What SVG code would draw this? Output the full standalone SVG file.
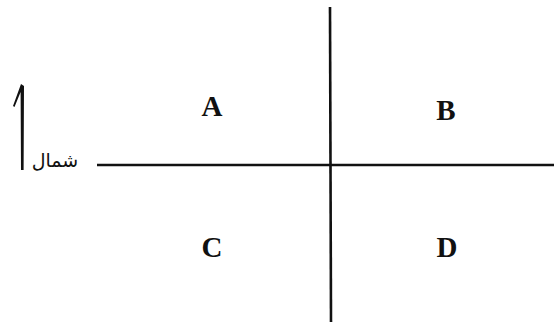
<svg xmlns="http://www.w3.org/2000/svg" width="554" height="326" viewBox="0 0 554 326">
<style>
.ln{stroke:#111;stroke-width:2.6;fill:none;stroke-linecap:butt}
.q{font-family:"Liberation Serif","Times New Roman",serif;font-weight:bold;font-size:29px;fill:#111;text-anchor:middle}
.n{font-family:"DejaVu Sans","Noto Sans",sans-serif;font-size:19px;fill:#111;text-anchor:middle}
</style>
<rect width="554" height="326" fill="#fff"/>
<g id="connectors">
<line class="ln" x1="97" y1="165" x2="554" y2="165"/>
<line class="ln" x1="330" y1="7" x2="331" y2="322"/>
</g>
<g id="north">
<path d="M21 84 L24 86 L23.6 170 L21 170 L20.6 92 L14.5 107 L13 106 Z" fill="#111"/>
<text class="n" x="55" y="167">شمال</text>
</g>
<g id="A"><text class="q" x="212" y="116">A</text></g>
<g id="B"><text class="q" x="446" y="120">B</text></g>
<g id="C"><text class="q" x="212" y="257">C</text></g>
<g id="D"><text class="q" x="447" y="257">D</text></g>
</svg>
